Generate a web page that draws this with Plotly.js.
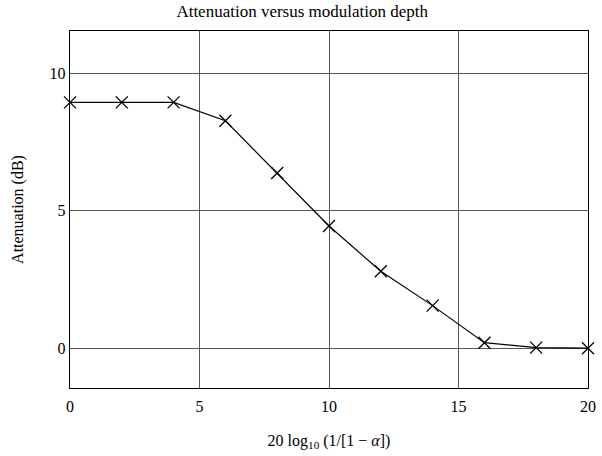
<!DOCTYPE html>
<html><head><meta charset="utf-8">
<script src="https://cdn.plot.ly/plotly-3.0.1.min.js"></script>
<style>body{margin:0;background:#fff}#c{width:602px;height:456px}</style>
</head><body><div id="c"></div>
<script>
const xVals = [0, 2, 4, 6, 8, 10, 12, 14, 16, 18, 20];
const attenuation = [8.95, 8.95, 8.95, 8.28, 6.38, 4.45, 2.8, 1.55, 0.2, 0.02, 0];
const xTicks = [0, 5, 10, 15, 20];
const yTicks = [0, 5, 10];

const font = {family: '"Liberation Serif", "DejaVu Serif", serif', color: '#000', size: 16};
Plotly.newPlot('c', [{
  x: xVals, y: attenuation, type: 'scatter', mode: 'lines+markers',
  line: {color: '#000', width: 1.2},
  marker: {symbol: 'x-thin', size: 12, line: {color: '#000', width: 1.3}},
  cliponaxis: false
}], {
  width: 602, height: 456,
  margin: {l: 70, r: 14, t: 31, b: 68},
  paper_bgcolor: '#fff', plot_bgcolor: '#fff',
  font: font, showlegend: false,
  title: {text: 'Attenuation versus modulation depth', font: {family: font.family, size: 17, color: '#000'}, x: 0.502, xanchor: 'center', y: 0.975, yanchor: 'middle'},
  xaxis: {range: [0, 20], tickvals: xTicks, ticktext: xTicks.map(String), showgrid: true, gridcolor: '#555', gridwidth: 1,
    zeroline: false, showline: true, linecolor: '#000', linewidth: 1.2, mirror: true, ticks: '', ticklen: 0,
    tickfont: {size: 16}, ticklabelstandoff: 4,
    title: {text: '20 log<sub>10</sub> (1/[1 − <i>α</i>])', font: {size: 16}, standoff: 20}},
  yaxis: {range: [-1.45, 11.55], tickvals: yTicks, ticktext: yTicks.map(String), showgrid: true, gridcolor: '#555', gridwidth: 1,
    zeroline: false, showline: true, linecolor: '#000', linewidth: 1.2, mirror: true, ticks: '', ticklen: 0,
    tickfont: {size: 16},
    title: {text: 'Attenuation (dB)', font: {size: 16}, standoff: 22}}
}, {displayModeBar: false, staticPlot: true});
</script></body></html>
